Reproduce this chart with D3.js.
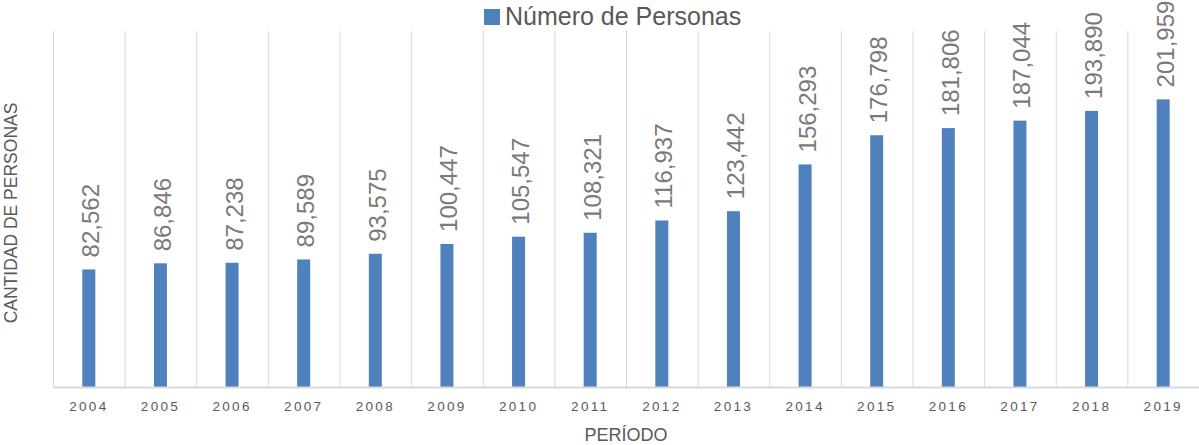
<!DOCTYPE html>
<html>
<head>
<meta charset="utf-8">
<script src="https://cdn.jsdelivr.net/npm/d3@7"></script>
<style>
  body { margin: 0; background: #fff; }
  text { font-family: "Liberation Sans", "DejaVu Sans", sans-serif; }
</style>
</head>
<body>
<div id="chart"></div>
<script>
var years = ["2004", "2005", "2006", "2007", "2008", "2009", "2010", "2011",
             "2012", "2013", "2014", "2015", "2016", "2017", "2018", "2019"];
var personas = [82562, 86846, 87238, 89589, 93575, 100447, 105547, 108321,
                116937, 123442, 156293, 176798, 181806, 187044, 193890, 201959];
var seriesName = "Número de Personas";

var margin = {top: 31, right: 0, bottom: 58, left: 53},
    width = 1199 - margin.left - margin.right,
    height = 445 - margin.top - margin.bottom;

var svg = d3.select("#chart")
  .append("svg")
    .attr("width", 1199)
    .attr("height", 445);

var g = svg.append("g")
    .attr("transform", "translate(" + margin.left + "," + margin.top + ")");

var x = d3.scaleBand()
    .domain(years)
    .range([0, width])
    .paddingInner(0)
    .paddingOuter(0);

var y = d3.scaleLinear()
    .domain([0, 250000])
    .range([height, 0]);

// vertical gridlines between categories
g.selectAll(".grid")
  .data(years.concat(["end"]))
  .enter()
  .append("line")
    .attr("x1", function(d, i){ return i * x.step() + 0.5 })
    .attr("x2", function(d, i){ return i * x.step() + 0.5 })
    .attr("y1", 0)
    .attr("y2", height)
    .attr("stroke", "#d9d9d9")
    .attr("stroke-width", 1);

var barW = 13;
var data = years.map(function(d, i){ return {year: d, value: personas[i]} });

g.selectAll(".bar")
  .data(data)
  .enter()
  .append("rect")
    .attr("x", function(d){ return x(d.year) + x.bandwidth() / 2 - barW / 2 })
    .attr("y", function(d){ return y(d.value) })
    .attr("width", barW)
    .attr("height", function(d){ return height - y(d.value) })
    .attr("fill", "#4f81bd");

// x axis
var xAxis = g.append("g")
  .attr("transform", "translate(0," + height + ")")
  .call(d3.axisBottom(x).tickSize(0).tickPadding(14));
xAxis.select(".domain").attr("stroke", "#d9d9d9").attr("stroke-width", 2);
xAxis.selectAll("text")
  .attr("fill", "#595959")
  .style("font-size", "13.5px")
  .style("letter-spacing", "2.3px")
  .style("font-family", "'Liberation Sans', sans-serif");

// value labels
g.selectAll(".lbl")
  .data(data)
  .enter()
  .append("text")
    .attr("transform", function(d){
      return "translate(" + (x(d.year) + x.bandwidth() / 2 + 10.5) + "," + (y(d.value) - 12) + ") rotate(-90)";
    })
    .attr("fill", "#7a7a7a")
    .style("font-size", "24px")
    .text(function(d){ return d3.format(",")(d.value) });

// legend
var leg = svg.append("g").attr("transform", "translate(484,9)");
leg.append("rect")
  .attr("width", 16).attr("height", 16)
  .attr("fill", "#4f81bd");
leg.append("text")
  .attr("x", 21).attr("y", 16)
  .attr("fill", "#595959")
  .style("font-size", "25px")
  .text(seriesName);

// axis titles
svg.append("text")
  .attr("x", margin.left + width / 2)
  .attr("y", 441)
  .attr("text-anchor", "middle")
  .attr("fill", "#595959")
  .style("font-size", "18px")
  .text("PERÍODO");

svg.append("text")
  .attr("transform", "translate(17,213) rotate(-90)")
  .attr("text-anchor", "middle")
  .attr("fill", "#595959")
  .style("font-size", "17.5px")
  .text("CANTIDAD DE PERSONAS");
</script>
</body>
</html>
